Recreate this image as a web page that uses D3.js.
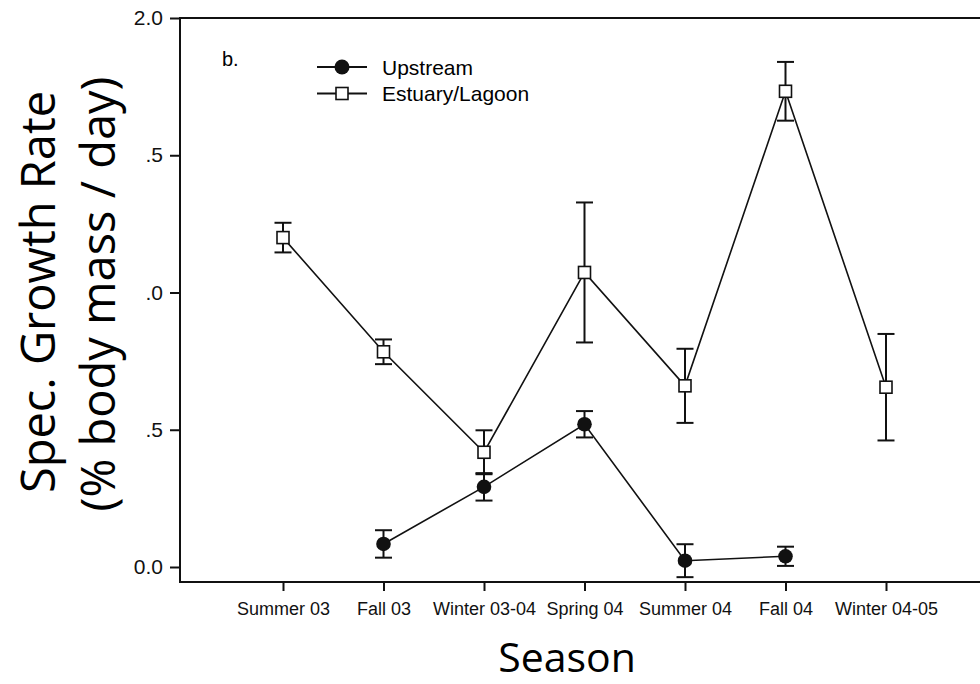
<!DOCTYPE html>
<html>
<head>
<meta charset="utf-8">
<script src="https://cdn.jsdelivr.net/npm/d3@7"></script>
<style>
    body { margin: 0; background: #fff; }
    svg { display: block; }
</style>
</head>
<body>
<div id="chart"></div>
<script>
(function(){

    // seasons on the x axis
    var seasons = ["Summer 03", "Fall 03", "Winter 03-04", "Spring 04", "Summer 04", "Fall 04", "Winter 04-05"];

    // Estuary/Lagoon means and error
    var estuaryMean = [1.20, 0.784, 0.418, 1.073, 0.66, 1.733, 0.655];
    var estuaryErr  = [0.054, 0.045, 0.08, 0.255, 0.135, 0.107, 0.194];

    // Upstream has no Summer 03 / Winter 04-05 values
    var upstreamMean = [null, 0.084, 0.292, 0.52, 0.023, 0.039, null];
    var upstreamErr  = [null, 0.05, 0.05, 0.048, 0.06, 0.035, null];

    // y ticks, labels as printed (leading digits hidden under the axis title)
    var yTicks = [0, 0.5, 1.0, 1.5, 2.0];
    var yTickLabels = ["0.0", ".5", ".0", ".5", "2.0"];

    var legendNames = ["Upstream", "Estuary/Lagoon"];

    var width = 980, height = 684;
    var left = 180, top = 18, bottom = 582, right = 992;

    var svg = d3.select("#chart").append("svg")
        .attr("width", width)
        .attr("height", height);

    var x = d3.scalePoint().domain(seasons).range([283, 886]);
    var y = d3.scaleLinear().domain([0, 2]).range([567, 18]);

    function toRows(means, errs){
        var rows = [];
        for (var i = 0; i < seasons.length; i++){
            if (means[i] !== null){
                rows.push({season: seasons[i], mean: means[i], err: errs[i]});
            }
        }
        return rows;
    }
    var estuary = toRows(estuaryMean, estuaryErr);
    var upstream = toRows(upstreamMean, upstreamErr);

    //frame: top, left, bottom
    var frame = svg.append("g").attr("stroke", "#111").attr("stroke-width", 2).attr("fill", "none");
    frame.append("path").attr("d", "M" + right + "," + top + "H" + left + "V" + bottom + "H" + right);

    //y axis
    var yAxis = svg.append("g")
        .attr("transform", "translate(" + left + ",0)")
        .call(d3.axisLeft(y).tickValues(yTicks).tickSize(10).tickPadding(7)
            .tickFormat(function(d, i){ return yTickLabels[i]; }));
    yAxis.select(".domain").remove();
    yAxis.selectAll("line").attr("stroke", "#111").attr("stroke-width", 2);
    yAxis.selectAll("text")
        .attr("font-family", "Liberation Sans, Arial, sans-serif")
        .attr("font-size", 21)
        .attr("fill", "#111");

    //x axis
    var xAxis = svg.append("g")
        .attr("transform", "translate(0," + bottom + ")")
        .call(d3.axisBottom(x).tickSize(9).tickPadding(11));
    xAxis.select(".domain").remove();
    xAxis.selectAll("line").attr("stroke", "#111").attr("stroke-width", 2);
    xAxis.selectAll("text")
        .attr("font-family", "Liberation Sans, Arial, sans-serif")
        .attr("font-size", 18)
        .attr("fill", "#111");

    //axis titles
    var titleFont = "'Open Sans', 'Noto Sans', sans-serif";
    svg.append("text")
        .attr("transform", "translate(55,292) rotate(-90)")
        .attr("text-anchor", "middle")
        .attr("font-family", titleFont)
        .attr("font-size", 47)
        .text("Spec. Growth Rate");
    svg.append("text")
        .attr("transform", "translate(115,294) rotate(-90)")
        .attr("text-anchor", "middle")
        .attr("font-family", titleFont)
        .attr("font-size", 47)
        .text("(% body mass / day)");
    svg.append("text")
        .attr("x", 567)
        .attr("y", 672)
        .attr("text-anchor", "middle")
        .attr("font-family", titleFont)
        .attr("font-size", 41)
        .text("Season");

    //panel letter
    svg.append("text")
        .attr("x", 222)
        .attr("y", 66)
        .attr("font-family", "Liberation Sans, Arial, sans-serif")
        .attr("font-size", 20)
        .text("b.");

    //connecting lines
    var line = d3.line()
        .x(function(d){ return x(d.season); })
        .y(function(d){ return y(d.mean); });

    [estuary, upstream].forEach(function(rows){
        svg.append("path")
            .datum(rows)
            .attr("d", line)
            .attr("fill", "none")
            .attr("stroke", "#111")
            .attr("stroke-width", 1.6);
    });

    //error bars
    var cap = 8.5;
    [estuary, upstream].forEach(function(rows){
        var g = svg.append("g").attr("stroke", "#111").attr("stroke-width", 2);
        var bars = g.selectAll("g").data(rows).enter().append("g");
        bars.append("line")
            .attr("x1", function(d){ return x(d.season); })
            .attr("x2", function(d){ return x(d.season); })
            .attr("y1", function(d){ return y(d.mean + d.err); })
            .attr("y2", function(d){ return y(d.mean - d.err); });
        bars.append("line")
            .attr("x1", function(d){ return x(d.season) - cap; })
            .attr("x2", function(d){ return x(d.season) + cap; })
            .attr("y1", function(d){ return y(d.mean + d.err); })
            .attr("y2", function(d){ return y(d.mean + d.err); });
        bars.append("line")
            .attr("x1", function(d){ return x(d.season) - cap; })
            .attr("x2", function(d){ return x(d.season) + cap; })
            .attr("y1", function(d){ return y(d.mean - d.err); })
            .attr("y2", function(d){ return y(d.mean - d.err); });
    });

    //markers
    var sq = 12;
    svg.append("g").selectAll("rect")
        .data(estuary).enter().append("rect")
        .attr("x", function(d){ return x(d.season) - sq / 2; })
        .attr("y", function(d){ return y(d.mean) - sq / 2; })
        .attr("width", sq)
        .attr("height", sq)
        .attr("fill", "#fff")
        .attr("stroke", "#111")
        .attr("stroke-width", 1.6);
    svg.append("g").selectAll("circle")
        .data(upstream).enter().append("circle")
        .attr("cx", function(d){ return x(d.season); })
        .attr("cy", function(d){ return y(d.mean); })
        .attr("r", 7.3)
        .attr("fill", "#111");

    //legend
    var legend = svg.append("g").attr("transform", "translate(317,67)");
    var item = legend.selectAll("g").data(legendNames).enter().append("g")
        .attr("transform", function(d, i){ return "translate(0," + (i * 26.5) + ")"; });
    item.append("line")
        .attr("x1", 0).attr("x2", 50)
        .attr("stroke", "#111").attr("stroke-width", 1.8);
    item.filter(function(d, i){ return i === 0; }).append("circle")
        .attr("cx", 25).attr("r", 7.5).attr("fill", "#111");
    item.filter(function(d, i){ return i === 1; }).append("rect")
        .attr("x", 19).attr("y", -6).attr("width", 12).attr("height", 12)
        .attr("fill", "#fff").attr("stroke", "#111").attr("stroke-width", 1.6);
    item.append("text")
        .attr("x", 65)
        .attr("y", 7.5)
        .attr("font-family", "Liberation Sans, Arial, sans-serif")
        .attr("font-size", 21)
        .text(function(d){ return d; });

})();
</script>
</body>
</html>
